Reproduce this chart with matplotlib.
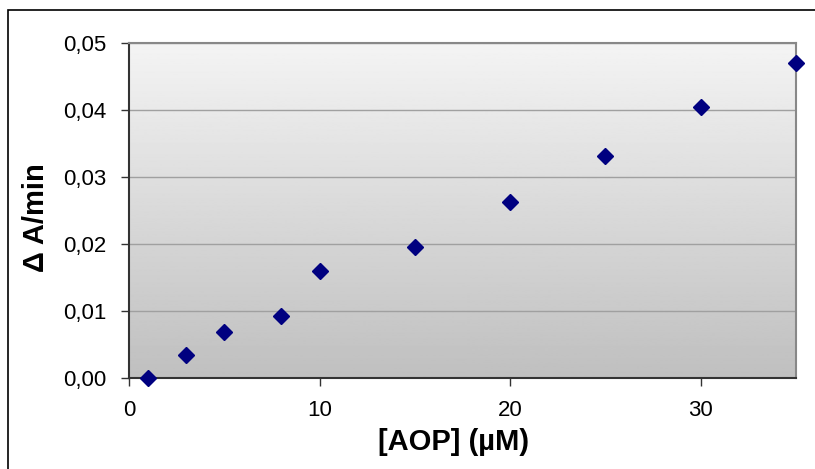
import numpy as np
import matplotlib
matplotlib.use('Agg')
import matplotlib.pyplot as plt
from matplotlib.patches import Rectangle
from matplotlib.ticker import FuncFormatter

plt.rcParams['font.family'] = ['Liberation Sans', 'DejaVu Sans']

aop = [1, 3, 5, 8, 10, 15, 20, 25, 30, 35]
rate = [0.0000, 0.0034, 0.0069, 0.0093, 0.0160, 0.0195, 0.0263, 0.0332, 0.0404, 0.0470]
x_ticks = [0, 10, 20, 30]
y_ticks = [0.00, 0.01, 0.02, 0.03, 0.04, 0.05]

fig = plt.figure(figsize=(8.15, 4.69), dpi=100)
ax = fig.add_axes([0.1583, 0.194, 0.8184, 0.714])

# outer chart frame
fig.patches.append(Rectangle((0.0098, -0.02), 1.1, 0.9987, transform=fig.transFigure,
                             fill=False, edgecolor='black', linewidth=1.2, clip_on=False))

# plot area gradient (light at top, darker gray at bottom)
grad = np.linspace(0.955, 0.75, 256).reshape(-1, 1)
ax.imshow(grad, cmap='gray', vmin=0, vmax=1, aspect='auto',
          extent=[0, 35, 0, 0.05], zorder=0, origin='upper')

ax.set_xlim(0, 35)
ax.set_ylim(0, 0.05)
ax.set_xticks(x_ticks)
ax.set_yticks(y_ticks)
ax.yaxis.set_major_formatter(FuncFormatter(lambda v, p: f"{v:.2f}".replace('.', ',')))
ax.grid(axis='y', color='#a0a0a0', linewidth=1, zorder=1)
ax.set_axisbelow(True)

ax.plot(aop, rate, linestyle='none', marker='D', markersize=8.5,
        color='#000080', zorder=5, clip_on=False)

for s in ['top', 'right']:
    ax.spines[s].set_color('#888888')
    ax.spines[s].set_linewidth(1.5)
for s in ['left', 'bottom']:
    ax.spines[s].set_color('#333333')
    ax.spines[s].set_linewidth(1.5)

ax.tick_params(direction='out', length=6, width=1, color='#333333', labelsize=16, pad=10)
ax.set_xlabel('[AOP] (µM)', fontsize=21, fontweight='bold')
ax.set_ylabel('Δ A/min', fontsize=21, fontweight='bold')
ax.xaxis.set_label_coords(0.487, -0.149)
ax.yaxis.set_label_coords(-0.118, 0.48)

plt.savefig('out.png', dpi=100)
